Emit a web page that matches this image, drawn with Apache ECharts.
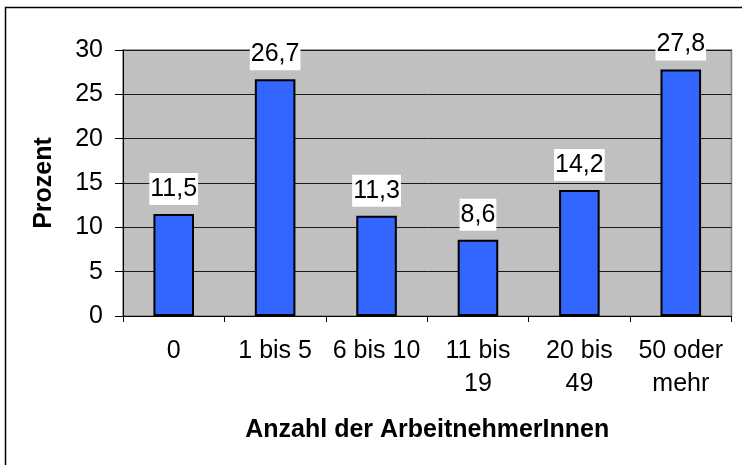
<!DOCTYPE html>
<html>
<head>
<meta charset="utf-8">
<script src="https://cdn.jsdelivr.net/npm/echarts@6/dist/echarts.min.js"></script>
<style>
  html, body { margin: 0; padding: 0; background: #fff; }
  #chart { width: 742px; height: 465px; }
</style>
</head>
<body>
<div id="chart"></div>
<script>
// Kategorien und Werte (Prozent)
var categories = ["0", "1 bis 5", "6 bis 10", "11 bis\n19", "20 bis\n49", "50 oder\nmehr"];
var values = [11.5, 26.7, 11.3, 8.6, 14.2, 27.8];
var yTicks = [0, 5, 10, 15, 20, 25, 30];

var FONT = "'Liberation Sans', Arial, sans-serif";
var FS = 25;

var myChart = echarts.init(document.getElementById("chart"));
var option = {
  backgroundColor: "#fff",
  animation: false,
  textStyle: { fontFamily: FONT },
  // Rahmen um das ganze Bild (rechts/unten ausserhalb)
  graphic: [{
    type: "rect",
    shape: { x: 5.5, y: 7.5, width: 900, height: 900 },
    style: { fill: "none", stroke: "#000", lineWidth: 1.5 },
    silent: true
  }],
  grid: {
    left: 123,
    top: 50,
    right: 10.5,
    bottom: 149,
    show: true,
    backgroundColor: "#C0C0C0",
    borderColor: "#808080",
    borderWidth: 1.5
  },
  xAxis: {
    type: "category",
    data: categories,
    name: "Anzahl der ArbeitnehmerInnen",
    nameLocation: "middle",
    nameGap: 102,
    nameTextStyle: { fontFamily: FONT, fontSize: FS, fontWeight: "bold", color: "#000" },
    axisLine: { lineStyle: { color: "#000", width: 1 } },
    axisTick: { show: true, alignWithLabel: false, length: 6, lineStyle: { color: "#000" } },
    axisLabel: {
      fontFamily: FONT, fontSize: FS, color: "#000", lineHeight: 33, margin: 19, interval: 0
    }
  },
  yAxis: {
    type: "value",
    min: yTicks[0],
    max: yTicks[yTicks.length - 1],
    interval: yTicks[1] - yTicks[0],
    name: "Prozent",
    nameLocation: "middle",
    nameRotate: 90,
    nameGap: 66,
    nameTextStyle: { fontFamily: FONT, fontSize: FS, fontWeight: "bold", color: "#000" },
    axisLine: { show: true, lineStyle: { color: "#000", width: 1 } },
    axisTick: { show: true, length: 8, inside: false, lineStyle: { color: "#000" } },
    axisLabel: { fontFamily: FONT, fontSize: FS, color: "#000", margin: 20 },
    splitLine: { show: true, lineStyle: { color: "#1a1a1a", width: 1 } }
  },
  series: [{
    type: "bar",
    data: values,
    barWidth: "40%",
    itemStyle: { color: "#3366FF", borderColor: "#000", borderWidth: 2 },
    label: {
      show: true,
      position: "top",
      distance: 9,
      fontFamily: FONT,
      fontSize: FS,
      color: "#000",
      lineHeight: 26,
      backgroundColor: "#fff",
      padding: [3, 1, 3, 1],
      formatter: function (p) {
        return String(p.value).replace(".", ",");
      }
    }
  }]
};
myChart.setOption(option);
window.addEventListener("resize", function () {
  myChart.resize();
});
</script>
</body>
</html>
